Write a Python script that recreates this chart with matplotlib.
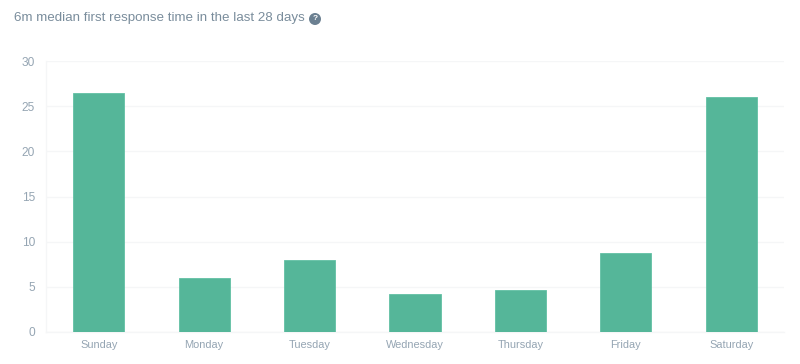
"""
Barras: mediana de primera respuesta por dia de la semana
"""

import matplotlib
matplotlib.use('Agg')
import matplotlib.pyplot as plt

plt.rcParams['font.family'] = ['Liberation Sans', 'DejaVu Sans']

days = ['Sunday', 'Monday', 'Tuesday', 'Wednesday', 'Thursday', 'Friday', 'Saturday']
minutes = [26.5, 6.0, 8.0, 4.2, 4.65, 8.75, 26.0]
y_ticks = [0, 5, 10, 15, 20, 25, 30]

W, H = 800, 364
BAR_COLOR = '#55B699'
GRID_COLOR = '#F5F6F7'
TICK_COLOR = '#95A5B3'
TITLE_COLOR = '#7A8D9C'


def main():
    fig = plt.figure(figsize=(W / 100, H / 100), dpi=100, facecolor='white')
    # ejes colocados en pixeles de la imagen original
    ax = fig.add_axes([46 / W, 1 - 332 / H, 738 / W, 271 / H])

    ax.bar(days, minutes, width=0.485, color=BAR_COLOR, edgecolor='#62C0A4',
           linewidth=0.6, zorder=3)

    ax.set_xlim(-0.5, len(days) - 0.5)
    ax.set_ylim(0, 30)
    ax.set_yticks(y_ticks)
    ax.grid(axis='y', color=GRID_COLOR, linewidth=1, zorder=0)
    ax.tick_params(axis='x', length=0, labelsize=7.9, labelcolor=TICK_COLOR, pad=6)
    ax.tick_params(axis='y', length=0, labelsize=8.6, labelcolor=TICK_COLOR, pad=8)

    for side in ('top', 'right'):
        ax.spines[side].set_visible(False)
    for side in ('left', 'bottom'):
        ax.spines[side].set_color(GRID_COLOR)
        ax.spines[side].set_linewidth(1)

    # titulo e icono de ayuda
    fig.text(14 / W, 1 - 18 / H, '6m median first response time in the last 28 days',
             fontsize=9.6, color=TITLE_COLOR, ha='left', va='center')
    fig.text(315 / W, 1 - 19 / H, '?', fontsize=6, fontweight='bold', color='white',
             ha='center', va='center',
             bbox=dict(boxstyle='circle,pad=0.3', facecolor='#6B8091', edgecolor='none'))

    fig.savefig('out.png', dpi=100, facecolor='white')
    plt.close()


if __name__ == '__main__':
    main()
